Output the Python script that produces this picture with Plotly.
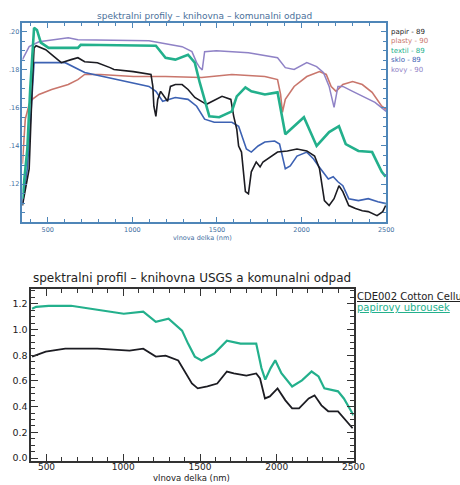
import plotly.graph_objects as go

# ---------------- top chart data (wavelength nm, reflectance) ----------------
top_black_wl = [350, 390, 408, 419, 431, 488, 523, 580, 638, 678, 718, 793, 868, 891, 1006, 1110, 1121, 1127, 1139, 1150, 1167, 1185, 1208, 1225, 1254, 1294, 1329, 1369, 1409, 1438, 1473, 1530, 1582, 1599, 1617, 1628, 1645, 1668, 1686, 1703, 1732, 1755, 1772, 1801, 1858, 1916, 1973, 2031, 2077, 2106, 2135, 2163, 2192, 2221, 2244, 2279, 2319, 2359, 2394, 2446, 2480, 2497]
top_black = [0.1087, 0.1280, 0.1713, 0.1916, 0.1927, 0.1906, 0.1880, 0.1838, 0.1854, 0.1864, 0.1843, 0.1838, 0.1812, 0.1802, 0.1791, 0.1776, 0.1713, 0.1609, 0.1556, 0.1645, 0.1687, 0.1661, 0.1635, 0.1713, 0.1723, 0.1723, 0.1697, 0.1655, 0.1635, 0.1619, 0.1635, 0.1661, 0.1645, 0.1556, 0.1488, 0.1400, 0.1368, 0.1160, 0.1149, 0.1264, 0.1316, 0.1290, 0.1316, 0.1332, 0.1368, 0.1374, 0.1384, 0.1374, 0.1347, 0.1280, 0.1113, 0.1087, 0.1123, 0.1191, 0.1160, 0.1087, 0.1071, 0.1060, 0.1055, 0.1034, 0.1055, 0.1087]

top_red_wl = [350, 367, 390, 408, 448, 523, 621, 678, 718, 811, 1006, 1196, 1409, 1455, 1588, 1783, 1858, 1876, 1887, 1904, 1956, 2031, 2106, 2146, 2175, 2204, 2244, 2302, 2359, 2417, 2474, 2500]
top_red = [0.1306, 0.1541, 0.1619, 0.1645, 0.1671, 0.1697, 0.1723, 0.1749, 0.1776, 0.1776, 0.1765, 0.1765, 0.1760, 0.1765, 0.1776, 0.1765, 0.1749, 0.1671, 0.1577, 0.1645, 0.1713, 0.1765, 0.1791, 0.1776, 0.1713, 0.1687, 0.1723, 0.1739, 0.1723, 0.1682, 0.1609, 0.1593]

top_green_wl = [350, 379, 396, 419, 436, 459, 505, 678, 695, 1139, 1196, 1254, 1329, 1369, 1398, 1427, 1455, 1513, 1588, 1617, 1668, 1703, 1783, 1858, 1887, 1904, 2014, 2089, 2163, 2221, 2261, 2336, 2417, 2474, 2497]
top_green = [0.1123, 0.1384, 0.1697, 0.2021, 0.2010, 0.1943, 0.1916, 0.1916, 0.1932, 0.1927, 0.1864, 0.1854, 0.1880, 0.1838, 0.1734, 0.1645, 0.1556, 0.1551, 0.1582, 0.1661, 0.1708, 0.1687, 0.1671, 0.1682, 0.1541, 0.1462, 0.1551, 0.1400, 0.1473, 0.1504, 0.1410, 0.1374, 0.1368, 0.1264, 0.1238]

top_blue_wl = [350, 379, 402, 419, 448, 523, 603, 718, 908, 1098, 1139, 1179, 1254, 1329, 1380, 1427, 1484, 1588, 1628, 1645, 1674, 1703, 1743, 1783, 1841, 1870, 1904, 1933, 1973, 2031, 2071, 2100, 2129, 2158, 2187, 2215, 2244, 2279, 2336, 2394, 2451, 2500]
top_blue = [0.1097, 0.1280, 0.1593, 0.1838, 0.1838, 0.1838, 0.1838, 0.1786, 0.1749, 0.1713, 0.1687, 0.1635, 0.1655, 0.1645, 0.1609, 0.1541, 0.1525, 0.1525, 0.1504, 0.1462, 0.1384, 0.1368, 0.1400, 0.1421, 0.1426, 0.1410, 0.1280, 0.1295, 0.1347, 0.1368, 0.1332, 0.1295, 0.1264, 0.1227, 0.1238, 0.1212, 0.1191, 0.1123, 0.1113, 0.1123, 0.1107, 0.1097]

top_purple_wl = [350, 390, 448, 621, 678, 1098, 1294, 1352, 1380, 1398, 1413, 1427, 1496, 1686, 1858, 1904, 1956, 2031, 2089, 2129, 2163, 2192, 2215, 2244, 2302, 2377, 2434, 2500]
top_purple = [0.1854, 0.1922, 0.1948, 0.1969, 0.1958, 0.1953, 0.1922, 0.1896, 0.1838, 0.1812, 0.1800, 0.1896, 0.1901, 0.1890, 0.1864, 0.1812, 0.1802, 0.1838, 0.1817, 0.1786, 0.1713, 0.1603, 0.1713, 0.1713, 0.1687, 0.1655, 0.1629, 0.1582]

top_names = ["papir - 89", "plasty - 90", "textil - 89", "sklo - 89", "kovy - 90"]
top_y_ticks = [0.10, 0.12, 0.14, 0.16, 0.18, 0.20]
top_y_ticktext = ["", ".12", ".14", ".16", ".18", ".20"]
x_ticks = [500, 1000, 1500, 2000, 2500]

# ---------------- bottom chart data ----------------
bot_green_wl = [406, 432, 514, 660, 831, 1003, 1130, 1212, 1295, 1383, 1422, 1466, 1510, 1593, 1675, 1764, 1866, 1900, 1925, 1960, 1990, 2030, 2100, 2164, 2227, 2272, 2310, 2399, 2437, 2500]
bot_green = [1.161, 1.176, 1.184, 1.184, 1.153, 1.122, 1.138, 1.060, 1.084, 0.991, 0.890, 0.789, 0.759, 0.813, 0.913, 0.890, 0.890, 0.700, 0.610, 0.700, 0.760, 0.660, 0.557, 0.604, 0.673, 0.635, 0.542, 0.519, 0.464, 0.333]

bot_black_wl = [406, 495, 622, 831, 1041, 1130, 1212, 1276, 1358, 1402, 1447, 1485, 1548, 1612, 1675, 1720, 1802, 1866, 1891, 1923, 1955, 2005, 2056, 2100, 2145, 2208, 2246, 2291, 2335, 2399, 2437, 2494]
bot_black = [0.789, 0.828, 0.851, 0.851, 0.836, 0.851, 0.789, 0.797, 0.759, 0.673, 0.580, 0.542, 0.557, 0.580, 0.673, 0.658, 0.642, 0.658, 0.619, 0.464, 0.480, 0.542, 0.449, 0.387, 0.387, 0.464, 0.488, 0.410, 0.364, 0.364, 0.310, 0.232]

bot_names = ["CDE002 Cotton Cellulose", "papirovy ubrousek"]
bot_y_ticks = [0.0, 0.2, 0.4, 0.6, 0.8, 1.0, 1.2]

C_BLACK = "#1c1c22"
C_RED = "#c9766c"
C_GREEN = "#23b08c"
C_BLUE = "#3d62b3"
C_PURPLE = "#8f82c6"
AX_TOP = "#4f86b8"

W, H = 460, 485
def px(x):
    return x / W
def py(y):
    return 1 - y / H

fig = go.Figure()
for wl, v, c, w in [(top_red_wl, top_red, C_RED, 1.6),
                    (top_purple_wl, top_purple, C_PURPLE, 1.5),
                    (top_blue_wl, top_blue, C_BLUE, 1.6),
                    (top_black_wl, top_black, C_BLACK, 1.6),
                    (top_green_wl, top_green, C_GREEN, 2.6)]:
    fig.add_trace(go.Scatter(x=wl, y=v, mode="lines", xaxis="x", yaxis="y",
                             line=dict(color=c, width=w), showlegend=False))

fig.add_trace(go.Scatter(x=bot_black_wl, y=bot_black, mode="lines", xaxis="x2", yaxis="y2",
                         line=dict(color=C_BLACK, width=1.8), showlegend=False))
fig.add_trace(go.Scatter(x=bot_green_wl, y=bot_green, mode="lines", xaxis="x2", yaxis="y2",
                         line=dict(color=C_GREEN, width=2.2), showlegend=False))

top_font = dict(family="DejaVu Sans", size=6.5, color="#3f6f9f")
bot_font = dict(family="DejaVu Sans", size=9.5, color="#222222")

fig.update_layout(
    width=W, height=H, margin=dict(l=0, r=0, t=0, b=0),
    paper_bgcolor="white", plot_bgcolor="white", showlegend=False,
    xaxis=dict(domain=[px(23), px(396.5)], range=[350, 2500], anchor="y",
               tickvals=x_ticks, ticks="inside", ticklen=5, tickcolor=AX_TOP,
               showline=True, linecolor=AX_TOP, linewidth=1.5, mirror="ticks",
               showgrid=False, zeroline=False, tickfont=top_font,
               minor=dict(dtick=100, tick0=0, ticks="inside", ticklen=3, tickcolor=AX_TOP)),
    yaxis=dict(domain=[py(223), py(23)], range=[0.10, 0.2047], anchor="x",
               tickvals=top_y_ticks, ticktext=top_y_ticktext, ticks="inside", ticklen=5,
               tickcolor=AX_TOP, showline=True, linecolor=AX_TOP, linewidth=1.5, mirror="ticks",
               showgrid=False, zeroline=False, tickfont=top_font,
               minor=dict(dtick=0.005, tick0=0, ticks="inside", ticklen=3, tickcolor=AX_TOP)),
    xaxis2=dict(domain=[px(32), px(363)], range=[400, 2500], anchor="y2",
                tickvals=x_ticks, ticks="inside", ticklen=7, tickcolor="#333",
                showline=True, linecolor="#333", linewidth=1.5, mirror="ticks",
                showgrid=False, zeroline=False, ticklabelstandoff=-4,
                tickfont=dict(family="DejaVu Sans", size=9, color="#222222"),
                minor=dict(dtick=100, tick0=0, ticks="inside", ticklen=4, tickcolor="#333")),
    yaxis2=dict(domain=[py(463), py(290)], range=[-0.023, 1.316], anchor="x2",
                tickvals=bot_y_ticks, tickformat=".1f", ticks="inside", ticklen=7,
                tickcolor="#333", showline=True, linecolor="#333", linewidth=1.5, mirror="ticks",
                showgrid=False, zeroline=False, tickfont=bot_font,
                minor=dict(dtick=0.05, tick0=0, ticks="inside", ticklen=4, tickcolor="#333")),
)

ann = []
ann.append(dict(text="spektralni profily \u2013 knihovna \u2013 komunalni odpad",
                x=px(210), y=py(16), xref="paper", yref="paper", showarrow=False,
                xanchor="center", yanchor="middle",
                font=dict(family="DejaVu Sans", size=9, color="#4a6f9a")))
ann.append(dict(text="vlnova delka (nm)", x=px(208), y=py(245), xref="paper", yref="paper",
                showarrow=False, xanchor="center", yanchor="bottom", font=top_font))
for i, (name, col) in enumerate(zip(top_names, [C_BLACK, C_RED, C_GREEN, C_BLUE, C_PURPLE])):
    ann.append(dict(text=name, x=px(399), y=py(32 + i * 9.5), xref="paper", yref="paper",
                    showarrow=False, xanchor="left", yanchor="middle",
                    font=dict(family="DejaVu Sans", size=7, color=col)))

ann.append(dict(text="spektralni profil \u2013 knihovna USGS a komunalni odpad",
                x=px(197), y=py(279), xref="paper", yref="paper", showarrow=False,
                xanchor="center", yanchor="middle",
                font=dict(family="DejaVu Sans", size=12, color="#222")))
ann.append(dict(text="vlnova delka (nm)", x=px(197), y=py(486), xref="paper", yref="paper",
                showarrow=False, xanchor="center", yanchor="bottom", borderpad=0,
                font=dict(family="DejaVu Sans", size=8.5, color="#222222")))
for i, (name, col) in enumerate(zip(bot_names, ["#222222", C_GREEN])):
    ann.append(dict(text='<span style="text-decoration:underline">' + name + '</span>',
                    x=px(364), y=py(298 + i * 11), xref="paper", yref="paper",
                    showarrow=False, xanchor="left", yanchor="middle",
                    font=dict(family="DejaVu Sans", size=10, color=col)))
fig.update_layout(annotations=ann)

fig.write_html("out.html")
